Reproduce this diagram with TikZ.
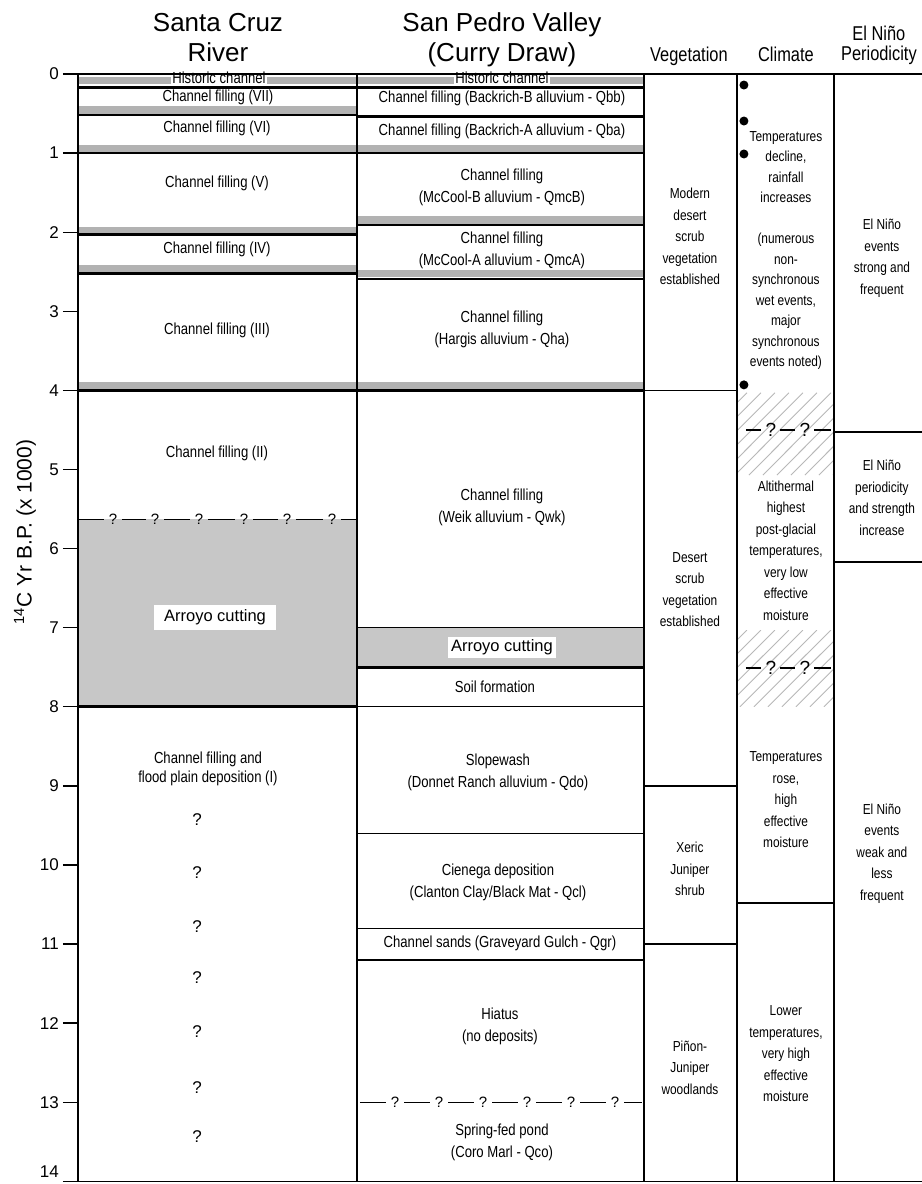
\documentclass[tikz,border=0pt]{standalone}
\usepackage{fontspec}
\setmainfont{Liberation Sans}
\newfontfamily\condfont[FakeStretch=0.82]{Liberation Sans}
\usetikzlibrary{positioning}
\tikzset{
    layer/.style={font=\condfont\fontsize{16}{22}\selectfont, align=center, inner sep=1pt},
    side/.style={font=\condfont\fontsize{14.5}{21.5}\selectfont, align=center, inner sep=1pt},
    title/.style={font=\fontsize{26}{30}\selectfont, align=center, inner sep=0pt, anchor=south},
    colhead/.style={font=\condfont\fontsize{20}{20}\selectfont, align=center, inner sep=0pt},
    tick/.style={font=\fontsize{17}{17}\selectfont, anchor=east, inner sep=0pt},
    cutbox/.style={font=\fontsize{16.5}{20}\selectfont, fill=white},
    qmark/.style={font=\fontsize{15}{15}\selectfont, inner xsep=5pt, inner ysep=1pt},
    dot/.style={circle, fill=black, inner sep=0pt, minimum size=9pt},
    heavy/.style={line width=2.6pt},
    light/.style={line width=1.3pt},
    band/.style={fill=black!30},
    cut/.style={fill=black!22},
    hatch/.style={draw=black!28, line width=0.9pt}
}
\begin{document}
\begin{tikzpicture}[x=1pt, y=-79.1pt]
    \fill[white] (0,-0.936) rectangle (922,14.034);
    \useasboundingbox (0,-0.936) rectangle (922,14.034);

    % Headings
    \node[title] (scr) at (218,-0.15) {Santa Cruz\\River};
    \node[title] (spv) at (502,-0.085) {San Pedro Valley\\(Curry Draw)};
    \node[colhead, anchor=base] (veg) at (689,-0.164) {Vegetation};
    \node[colhead, anchor=base] (clim) at (786,-0.164) {Climate};
    \node[colhead, anchor=south] (nino) at (879,-0.11) {El Niño\\Periodicity};
    \node[font=\fontsize{21}{21}\selectfont, rotate=90] (ylab) at (25,5.79) {\textsuperscript{14}C Yr B.P. (x 1000)};

    % Grey fills
    \foreach \t in {0.13,0.5,0.99,2.02,2.5,3.98} \fill[band] (78,\t-0.09) rectangle (357,\t);
    \foreach \t in {0.13,0.99,1.89,2.57,3.98} \fill[band] (357,\t-0.09) rectangle (644,\t);
    \fill[cut] (78,5.63) rectangle (357,8.0);
    \fill[cut] (357,7.0) rectangle (644,7.5);

    % Hatching in the climate column
    \begin{scope}
        \clip (737,4.03) rectangle (834,5.07);
        \foreach \h in {651,665,...,840} \draw[hatch] (\h,5.07) -- (\h+82,4.03);
    \end{scope}
    \begin{scope}
        \clip (737,7.03) rectangle (834,8.0);
        \foreach \h in {656,670,...,840} \draw[hatch] (\h,8.0) -- (\h+77,7.03);
    \end{scope}

    % Boxed labels
    \node[layer, fill=white, anchor=base, inner ysep=0.5pt] (schist) at (219,0.126) {Historic channel};
    \node[layer, fill=white, anchor=base, inner ysep=0.5pt] (sphist) at (502,0.126) {Historic channel};
    \node[cutbox, inner xsep=10.5pt, inner ysep=4.5pt] (sccut) at (215,6.87) {Arroyo cutting};
    \node[cutbox, inner xsep=3.5pt, inner ysep=2.5pt] (spcut) at (502,7.25) {Arroyo cutting};

    % Layer boundaries
    \foreach \t in {0.17,0.52,1.0,2.03,2.52,4.0,8.0} \draw[heavy] (78,\t) -- (357,\t);
    \foreach \t in {0.17,0.54,1.0,1.91,2.59,4.0,7.5} \draw[heavy] (357,\t) -- (644,\t);
    \foreach \t in {7.0,8.0,9.6,10.8,11.2} \draw[light] (357,\t) -- (644,\t);
    \foreach \t in {4.0,9.0,11.0} \draw[light] (644,\t) -- (737,\t);
    \draw[light] (737,10.48) -- (834,10.48);
    \foreach \t in {4.526,6.17} \draw[light] (834,\t) -- (922,\t);

    % Frame and axis
    \draw[light] (78,0) -- (922,0);
    \draw[light] (63,14) -- (922,14);
    \foreach \x in {78,357,644,737,834} \draw[light] (\x,0) -- (\x,14);
    \foreach \t in {0,...,13} {
        \draw[light] (63,\t) -- (78,\t);
        \node[tick] (tk\t) at (59,\t) {\t};
    }
    \node[tick, anchor=base east] (tk14) at (59,13.95) {14};

    % Santa Cruz River
    \node[layer] (sc7) at (218,0.29) {Channel filling (VII)};
    \node[layer] (sc6) at (217,0.683) {Channel filling (VI)};
    \node[layer] (sc5) at (217,1.378) {Channel filling (V)};
    \node[layer] (sc4) at (217,2.212) {Channel filling (IV)};
    \node[layer] (sc3) at (217,3.236) {Channel filling (III)};
    \node[layer] (sc2) at (217,4.79) {Channel filling (II)};
    \node[layer, font=\condfont\fontsize{16}{19}\selectfont] (sc1) at (208,8.78) {Channel filling and\\flood plain deposition (I)};
    \foreach \t [count=\i] in {9.43,10.1,10.78,11.43,12.11,12.81,13.44}
        \node[qmark, font=\fontsize{17}{17}\selectfont] (scq\i) at (197,\t) {?};
    \coordinate (sqa) at (78,5.63);
    \coordinate (sqb) at (357,5.63);
    \foreach \x [count=\i] in {113,155,199,244,287,332} \node[qmark] (sq\i) at (\x,5.63) {?};
    \foreach \a/\b in {sqa/sq1,sq1/sq2,sq2/sq3,sq3/sq4,sq4/sq5,sq5/sq6,sq6/sqb} \draw[light] (\a) -- (\b);

    % San Pedro Valley
    \node[layer] (qbb) at (502,0.303) {Channel filling (Backrich-B alluvium - Qbb)};
    \node[layer] (qba) at (502,0.72) {Channel filling (Backrich-A alluvium - Qba)};
    \node[layer] (qmcb) at (502,1.43) {Channel filling\\(McCool-B alluvium - QmcB)};
    \node[layer] (qmca) at (502,2.225) {Channel filling\\(McCool-A alluvium - QmcA)};
    \node[layer] (qha) at (502,3.23) {Channel filling\\(Hargis alluvium - Qha)};
    \node[layer] (qwk) at (502,5.474) {Channel filling\\(Weik alluvium - Qwk)};
    \node[layer] (soil) at (495,7.75) {Soil formation};
    \node[layer] (qdo) at (498,8.824) {Slopewash\\(Donnet Ranch alluvium - Qdo)};
    \node[layer] (qcl) at (498,10.22) {Cienega deposition\\(Clanton Clay/Black Mat - Qcl)};
    \node[layer] (qgr) at (500,10.986) {Channel sands (Graveyard Gulch - Qgr)};
    \node[layer] (hiat) at (500,12.04) {Hiatus\\(no deposits)};
    \node[layer] (qco) at (502,13.51) {Spring-fed pond\\(Coro Marl - Qco)};
    \coordinate (pqa) at (360,13.0);
    \coordinate (pqb) at (642,13.0);
    \foreach \x [count=\i] in {395,439,483,527,571,615} \node[qmark] (pq\i) at (\x,13.0) {?};
    \foreach \a/\b in {pqa/pq1,pq1/pq2,pq2/pq3,pq3/pq4,pq4/pq5,pq5/pq6,pq6/pqb} \draw[light] (\a) -- (\b);

    % Vegetation
    \node[side] (veg1) at (690,2.054) {Modern\\desert\\scrub\\vegetation\\established};
    \node[side] (veg2) at (690,6.517) {Desert\\scrub\\vegetation\\established};
    \node[side] (veg3) at (690,10.05) {Xeric\\Juniper\\shrub};
    \node[side] (veg4) at (690,12.56) {Piñon-\\Juniper\\woodlands};

    % Climate
    \node[side, font=\condfont\fontsize{14.5}{20.5}\selectfont] (clim1) at (786,2.231) {Temperatures\\decline,\\rainfall\\increases\\[20.5pt](numerous\\non-\\synchronous\\wet events,\\major\\synchronous\\events noted)};
    \node[side] (clim2) at (786,6.024) {Altithermal\\highest\\post-glacial\\temperatures,\\very low\\effective\\moisture};
    \node[side] (clim3) at (786,9.178) {Temperatures\\rose,\\high\\effective\\moisture};
    \node[side] (clim4) at (786,12.39) {Lower\\temperatures,\\very high\\effective\\moisture};
    \foreach \t [count=\i] in {0.139,0.594,1.011,3.93} \node[dot] (ev\i) at (744,\t) {};
    \foreach \t/\n in {4.5/u,7.51/l} {
        \coordinate (cq\n a) at (746,\t);
        \coordinate (cq\n b) at (831,\t);
        \node[qmark, font=\fontsize{19}{19}\selectfont, inner xsep=4pt] (cq\n1) at (771,\t) {?};
        \node[qmark, font=\fontsize{19}{19}\selectfont, inner xsep=4pt] (cq\n2) at (805,\t) {?};
        \draw[light] (cq\n a) -- (cq\n1);
        \draw[light] (cq\n1) -- (cq\n2);
        \draw[light] (cq\n2) -- (cq\n b);
    }

    % El Nino periodicity
    \node[side] (nino1) at (882,2.33) {El Niño\\events\\strong and\\frequent};
    \node[side] (nino2) at (882,5.36) {El Niño\\periodicity\\and strength\\increase};
    \node[side] (nino3) at (882,9.855) {El Niño\\events\\weak and\\less\\frequent};
\end{tikzpicture}
\end{document}
